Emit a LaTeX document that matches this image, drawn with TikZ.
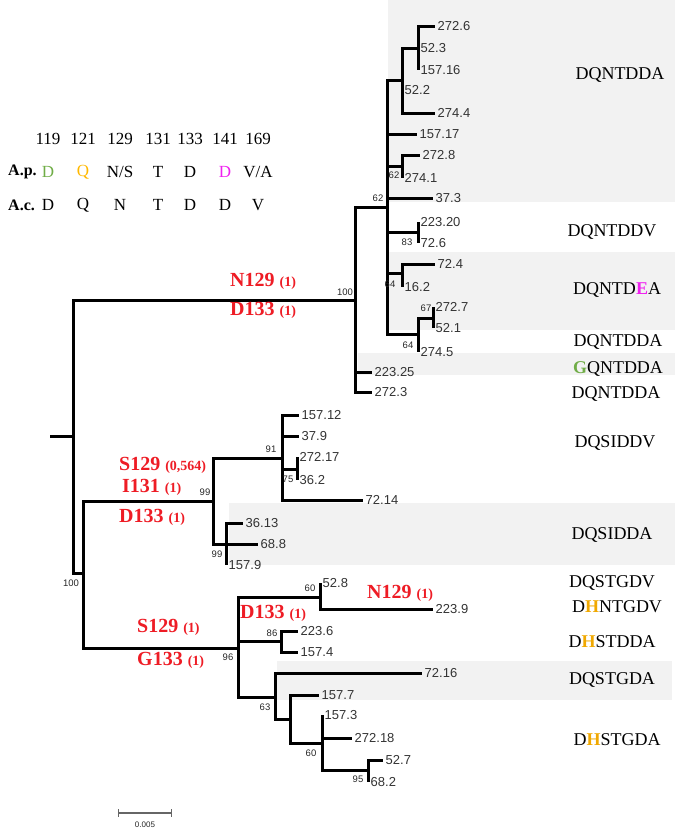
\documentclass[tikz,border=0pt]{standalone}
\usepackage{fontspec}
\setmainfont{Liberation Serif}
\newfontfamily\arialf{Liberation Sans}
\usepackage{xcolor}
\usetikzlibrary{calc}
\definecolor{mutred}{HTML}{EE1C25}
\definecolor{apgreen}{HTML}{70AD47}
\definecolor{aporange}{HTML}{FFB800}
\definecolor{hcol}{HTML}{F0A800}
\definecolor{apmag}{HTML}{F020F0}
\newcommand{\freq}[1]{{\fontsize{14}{14}\selectfont #1}}

\tikzset{
  branch/.style={line width=3pt},
  tip/.style={right, inner sep=2.5pt, text=black!80, font=\arialf\fontsize{13}{13}\selectfont},
  boot/.style={inner sep=0pt, text=black!85, font=\arialf\fontsize{9.5}{9.5}\selectfont},
  mut/.style={anchor=west, inner sep=0pt, text=mutred, font=\bfseries\fontsize{20}{20}\selectfont},
  seq/.style={inner sep=0pt, font=\fontsize{18}{18}\selectfont},
  leg/.style={inner sep=0pt, font=\fontsize{17}{17}\selectfont},
  shade/.style={fill=black!5, draw=none}
}

\begin{document}
\begin{tikzpicture}[x=1pt, y=-1pt]
\useasboundingbox (0,0) rectangle (675,830);

% shaded groups
\fill[shade] (388,0) rectangle (675,202);
\fill[shade] (388,252) rectangle (675,330);
\fill[shade] (358,353) rectangle (675,375);
\fill[shade] (229,503) rectangle (675,565);
\fill[shade] (277,661) rectangle (672,700);

% legend
\foreach \c/\x in {119/48, 121/83, 129/120, 131/158, 133/190, 141/225, 169/258}
  \node[leg] (pos\c) at (\x,139) {\c};
\node[leg, anchor=west, font=\bfseries\fontsize{16}{16}\selectfont] (ap) at (8,172) {A.p.};
\node[leg, anchor=west, font=\bfseries\fontsize{16}{16}\selectfont] (ac) at (8,205) {A.c.};
\node[leg] (ap119) at (48,172) {\textcolor{apgreen}{D}};
\node[leg] (ap121) at (83,172) {\textcolor{aporange}{Q}};
\node[leg] (ap129) at (120,172) {N/S};
\node[leg] (ap131) at (158,172) {T};
\node[leg] (ap133) at (190,172) {D};
\node[leg] (ap141) at (225,172) {\textcolor{apmag}{D}};
\node[leg] (ap169) at (258,172) {V/A};
\foreach \c/\x/\a in {119/48/D, 121/83/Q, 129/120/N, 131/158/T, 133/190/D, 141/225/D, 169/258/V}
  \node[leg] (ac\c) at (\x,205) {\a};

% internal nodes
\foreach \n/\x/\y in {rt/73/436, nA/355/300, n62a/387/207, n1/402/80, n2/418/48,
    n62b/402/166, n83/418/232, n64a/402/273, n64b/418/334, n67/433/318,
    nB/83/573, n99a/213/501, n91/282/458, n75/297/469, n99b/226/544,
    n96/238/648, n60a/320/597, n86/281/641, n63/275/697, n5/290/719,
    n60b/322/743, n95/368/770}
  \coordinate (\n) at (\x,\y);
\coordinate (stub) at (50,436);

% tips
\foreach \n/\x/\y/\l in {t2726/435/26/272.6, t523/418/48/52.3, t15716/418/70/157.16,
    t522/402/90/52.2, t2744/435/113/274.4, t15717/417/134/157.17, t2728/420/155/272.8,
    t2741/402/178/274.1, t373/433/198/37.3, t22320/418/222/223.20, t726/418/243/72.6,
    t724/435/264/72.4, t162/402/287/16.2, t2727/433/307/272.7, t521/433/328/52.1,
    t2745/418/352/274.5, t22325/372/372/223.25, t2723/372/392/272.3,
    t15712/299/415/157.12, t379/299/436/37.9, t27217/297/457/272.17, t362/297/480/36.2,
    t7214/363/500/72.14, t3613/243/523/36.13, t688/258/544/68.8, t1579/226/565/157.9,
    t528/320/583/52.8, t2239/433/609/223.9, t2236/298/631/223.6, t1574/298/652/157.4,
    t7216/422/673/72.16, t1577/319/695/157.7, t1573/322/715/157.3,
    t27218/352/738/272.18, t527/383/760/52.7, t682/368/782/68.2}
  {\coordinate (\n) at (\x,\y);
   \node[tip] (l\n) at (\n) {\l};}

% branches
\draw[branch] (stub) -- (rt);
\foreach \p/\c in {rt/nA, rt/nB, nA/n62a, nA/t22325, nA/t2723,
    n62a/n1, n62a/t15717, n62a/n62b, n62a/t373, n62a/n83, n62a/n64a, n62a/n64b,
    n1/n2, n1/t522, n1/t2744, n2/t2726, n2/t523, n2/t15716,
    n62b/t2728, n62b/t2741, n83/t22320, n83/t726, n64a/t724, n64a/t162,
    n64b/n67, n64b/t2745, n67/t2727, n67/t521,
    nB/n99a, nB/n96, n99a/n91, n99a/n99b, n91/t15712, n91/t379, n91/n75, n91/t7214,
    n75/t27217, n75/t362, n99b/t3613, n99b/t688, n99b/t1579,
    n96/n60a, n96/n86, n96/n63, n60a/t528, n60a/t2239, n86/t2236, n86/t1574,
    n63/t7216, n63/n5, n5/t1577, n5/n60b, n60b/t1573, n60b/t27218, n60b/n95,
    n95/t527, n95/t682}
  \draw[branch] (\p) |- (\c);

% bootstrap values
\foreach \b/\x/\y in {100/345/292, 62/378/198, 62/394/175, 83/407/242, 64/390/284,
    67/426/308, 64/408/345, 100/71/583, 99/205/492, 91/271/449, 75/288/479,
    99/217/554, 60/310/588, 86/272/633, 96/228/657, 63/265/707, 60/311/753, 95/358/779}
  \node[boot] at (\x,\y) {\b};

% mutations
\node[mut] (mN129a) at (230,281) {N129 \freq{(1)}};
\node[mut] (mD133a) at (230,310) {D133 \freq{(1)}};
\node[mut] (mS129b) at (119,465) {S129 \freq{(0,564)}};
\node[mut] (mI131b) at (122,487) {I131 \freq{(1)}};
\node[mut] (mD133b) at (119,517) {D133 \freq{(1)}};
\node[mut] (mS129c) at (137,627) {S129 \freq{(1)}};
\node[mut] (mG133c) at (137,660) {G133 \freq{(1)}};
\node[mut] (mD133d) at (240,613) {D133 \freq{(1)}};
\node[mut] (mN129d) at (367,593) {N129 \freq{(1)}};

% sequences
\node[seq] (s1) at (620,75) {DQNTDDA};
\node[seq] (s2) at (612,232) {DQNTDDV};
\node[seq] (s3) at (617,290) {DQNTD\textcolor{apmag}{\textbf{E}}A};
\node[seq] (s4) at (618,342) {DQNTDDA};
\node[seq] (s5) at (618,369) {\textcolor{apgreen}{\textbf{G}}QNTDDA};
\node[seq] (s6) at (616,394) {DQNTDDA};
\node[seq] (s7) at (615,443) {DQSIDDV};
\node[seq] (s8) at (612,535) {DQSIDDA};
\node[seq] (s9) at (612,583) {DQSTGDV};
\node[seq] (s10) at (617,607) {D\textcolor{hcol}{\textbf{H}}NTGDV};
\node[seq] (s11) at (612,642) {D\textcolor{hcol}{\textbf{H}}STDDA};
\node[seq] (s12) at (612,680) {DQSTGDA};
\node[seq] (s13) at (617,740) {D\textcolor{hcol}{\textbf{H}}STGDA};

% scale bar
\coordinate (sbL) at (118,813);
\coordinate (sbR) at (171,813);
\draw[black!60, line width=1.2pt] (sbL) -- (sbR);
\draw[black!60, line width=1pt] ($(sbL)+(0,-4)$) -- ($(sbL)+(0,4)$);
\draw[black!60, line width=1pt] ($(sbR)+(0,-4)$) -- ($(sbR)+(0,4)$);
\node[boot, font=\arialf\fontsize{8}{8}\selectfont] (sblab) at (145,825) {0.005};
\end{tikzpicture}
\end{document}
